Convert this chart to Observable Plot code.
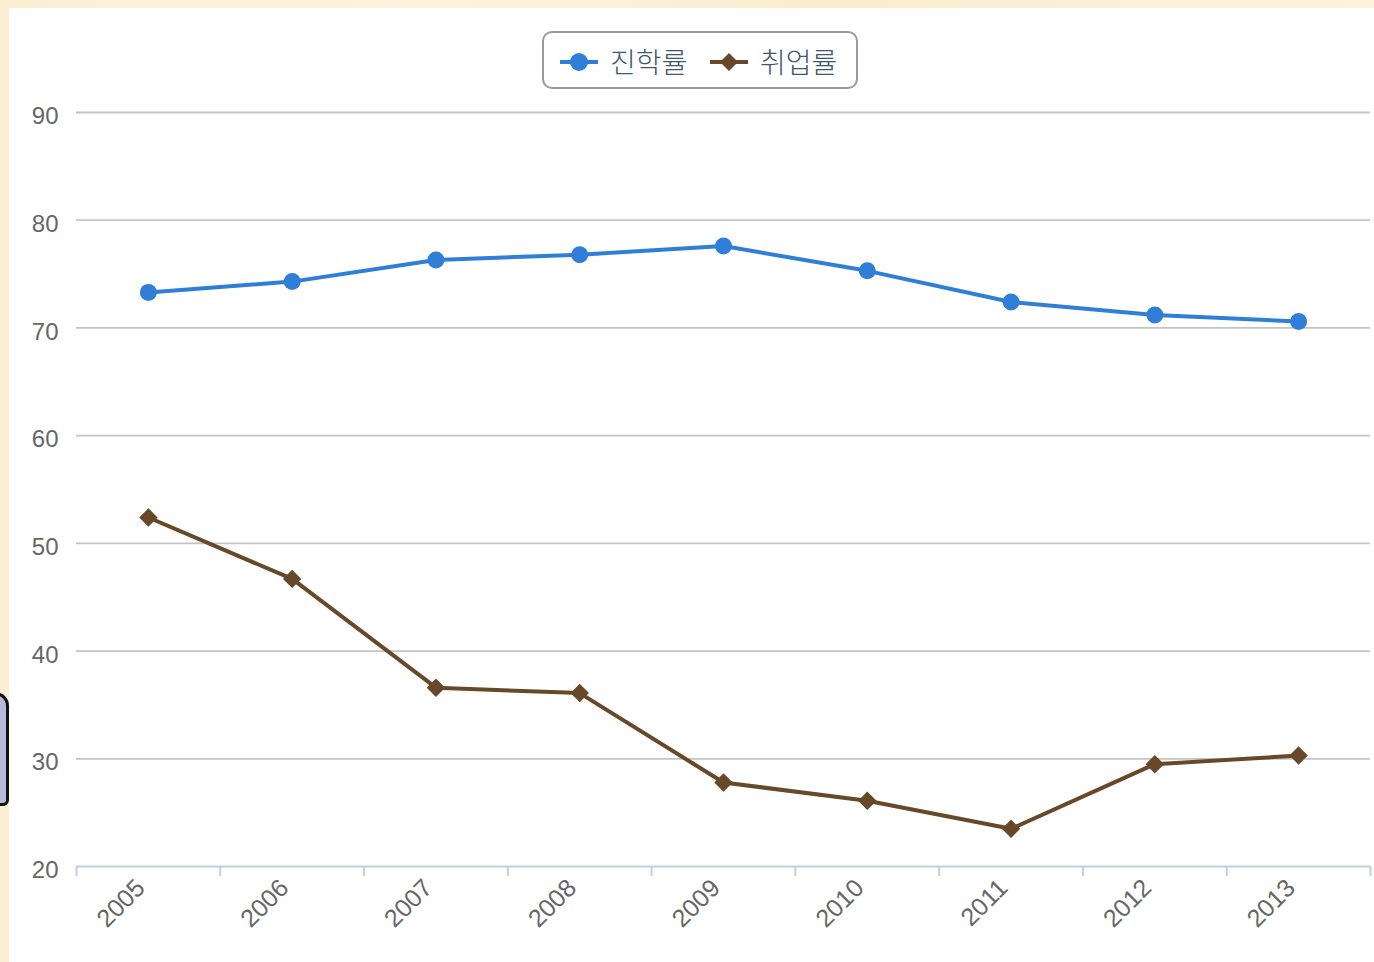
<!DOCTYPE html>
<html>
<head>
<meta charset="utf-8">
<script src="https://cdn.jsdelivr.net/npm/d3@7"></script>
<script src="https://cdn.jsdelivr.net/npm/@observablehq/plot@0.6"></script>
<style>
  html, body { margin: 0; padding: 0; }
  body { width: 1374px; height: 962px; position: relative; overflow: hidden;
         background: linear-gradient(90deg, #fbeed3, #fdf3de 30%, #fbecd0 60%, #fdf2dc); font-family: "Liberation Sans", Arial, "Noto Sans CJK KR", sans-serif; }
  #panel { position: absolute; left: 9px; top: 8px; right: 0; bottom: 0; background: #fff; }
  #blob { position: absolute; left: -14px; top: 692px; width: 20px; height: 108px; background: #b9b9de;
          border: 3px solid #111; border-left: none; border-radius: 0 14px 6px 0; }
  #chart { position: absolute; left: 0; top: 0; }
  #legend { position: absolute; left: 542px; top: 31px; width: 316px; height: 58px; box-sizing: border-box;
            border: 2px solid #9a9a9a; border-radius: 10px; background: #fff; }
  .lg-text { position: absolute; top: 12px; font-size: 28px; line-height: 32px; color: #3e576f; font-weight: 300;
             font-family: "Noto Sans CJK KR", sans-serif; white-space: nowrap; }
  .lg-sym { position: absolute; top: 17px; }
</style>
</head>
<body>
<div id="panel"></div>
<div id="blob"></div>
<div id="chart"></div>
<div id="legend"></div>
<script>
const years = [2005, 2006, 2007, 2008, 2009, 2010, 2011, 2012, 2013];
const enrollRate = [73.3, 74.3, 76.3, 76.8, 77.6, 75.3, 72.4, 71.2, 70.6];
const employRate = [52.4, 46.7, 36.6, 36.1, 27.8, 26.1, 23.5, 29.5, 30.3];
const yTicks = [20, 30, 40, 50, 60, 70, 80, 90];
const seriesNames = ["진학률", "취업률"];
const seriesColors = ["#2f7ed8", "#674829"];

const enrollData = years.map((y, i) => ({year: y, value: enrollRate[i]}));
const employData = years.map((y, i) => ({year: y, value: employRate[i]}));
const boundaries = [...years.map(y => y - 0.5), years[years.length - 1] + 0.5];

const chart = Plot.plot({
  width: 1374,
  height: 962,
  marginLeft: 76,
  marginRight: 4,
  marginTop: 112,
  marginBottom: 96,
  style: {background: "transparent", fontFamily: "'Liberation Sans', Arial, sans-serif"},
  x: {domain: [years[0] - 0.5, years[years.length - 1] + 0.5], axis: null},
  y: {domain: [20, 90], axis: null},
  marks: [
    Plot.ruleY(yTicks.filter(t => t > 20), {stroke: "#c4c4c4", strokeWidth: 1.8}),
    Plot.text(yTicks, {x: years[0] - 0.5, y: d => d, text: d => String(d), dx: -18, dy: 4, textAnchor: "end",
      fontSize: 24, fill: "#666"}),
    Plot.ruleY([20], {stroke: "#c0d0e0", strokeWidth: 2}),
    Plot.axisX({ticks: boundaries, tickSize: 10, tickFormat: () => "", label: null, stroke: "#c0d0e0", strokeWidth: 2}),
    Plot.text(years, {x: d => d, frameAnchor: "bottom", text: d => String(d), dx: -2, dy: 23, rotate: -45,
      textAnchor: "end", fontSize: 25, fill: "#666"}),
    Plot.line(enrollData, {x: "year", y: "value", stroke: seriesColors[0], strokeWidth: 4}),
    Plot.dot(enrollData, {x: "year", y: "value", r: 8.5, fill: seriesColors[0], symbol: "circle"}),
    Plot.line(employData, {x: "year", y: "value", stroke: seriesColors[1], strokeWidth: 4}),
    Plot.dot(employData, {x: "year", y: "value", r: 8.3, fill: seriesColors[1], symbol: "diamond2"})
  ]
});
document.getElementById("chart").appendChild(chart);

// Legend
const legend = document.getElementById("legend");
const symX = [16, 166];
const textX = [66, 216];
seriesNames.forEach((name, i) => {
  const ns = "http://www.w3.org/2000/svg";
  const svg = document.createElementNS(ns, "svg");
  svg.setAttribute("width", 40);
  svg.setAttribute("height", 24);
  svg.setAttribute("class", "lg-sym");
  svg.style.left = symX[i] + "px";
  const line = document.createElementNS(ns, "line");
  line.setAttribute("x1", 0); line.setAttribute("x2", 38);
  line.setAttribute("y1", 12); line.setAttribute("y2", 12);
  line.setAttribute("stroke", seriesColors[i]);
  line.setAttribute("stroke-width", 4);
  svg.appendChild(line);
  if (i === 0) {
    const c = document.createElementNS(ns, "circle");
    c.setAttribute("cx", 19); c.setAttribute("cy", 12); c.setAttribute("r", 9);
    c.setAttribute("fill", seriesColors[i]);
    svg.appendChild(c);
  } else {
    const p = document.createElementNS(ns, "path");
    p.setAttribute("d", "M19,3L28,12L19,21L10,12Z");
    p.setAttribute("fill", seriesColors[i]);
    svg.appendChild(p);
  }
  legend.appendChild(svg);
  const t = document.createElement("div");
  t.className = "lg-text";
  t.style.left = textX[i] + "px";
  t.textContent = name;
  legend.appendChild(t);
});
</script>
</body>
</html>
